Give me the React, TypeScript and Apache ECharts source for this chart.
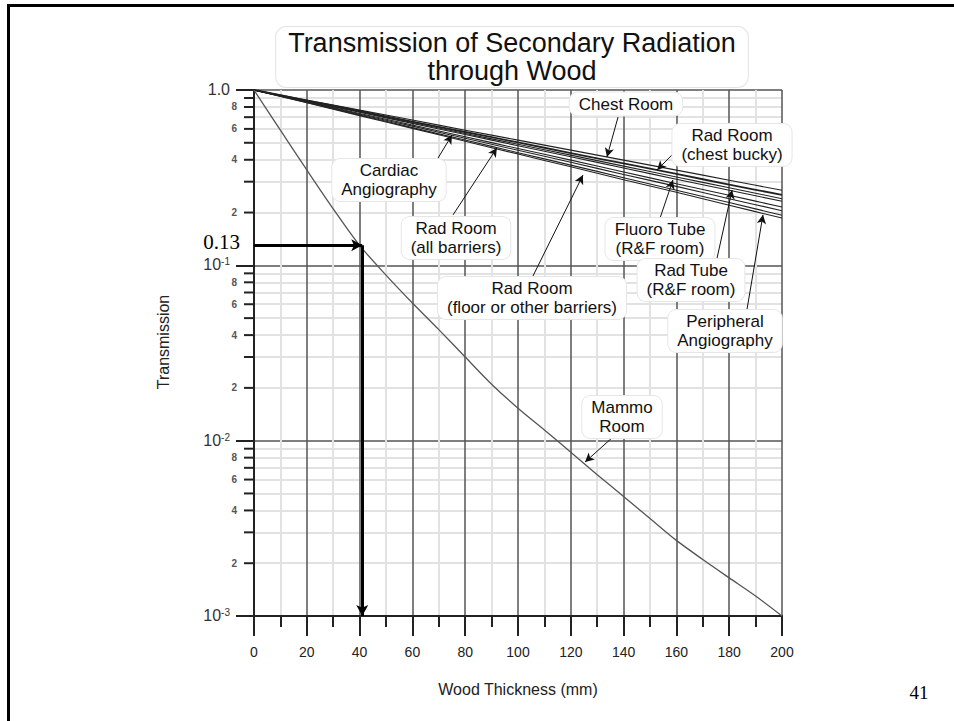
import React, { useEffect, useRef } from 'react';
import * as echarts from 'echarts';

// ---- Data ----
const THICKNESS = [0, 20, 40, 60, 80, 100, 120, 140, 160, 180, 200];
const CHEST_ROOM = [1, 0.877, 0.768, 0.674, 0.59, 0.518, 0.454, 0.398, 0.349, 0.306, 0.268];
const RAD_ROOM_CHEST_BUCKY = [1, 0.871, 0.759, 0.661, 0.576, 0.502, 0.437, 0.381, 0.332, 0.289, 0.252];
const RAD_TUBE_RF = [1, 0.867, 0.752, 0.652, 0.565, 0.49, 0.425, 0.368, 0.319, 0.277, 0.24];
const FLUORO_TUBE_RF = [1, 0.864, 0.746, 0.645, 0.557, 0.481, 0.416, 0.359, 0.31, 0.268, 0.232];
const CARDIAC_ANGIO = [1, 0.858, 0.735, 0.631, 0.541, 0.464, 0.398, 0.341, 0.292, 0.251, 0.215];
const RAD_ROOM_ALL = [1, 0.854, 0.728, 0.622, 0.531, 0.453, 0.387, 0.33, 0.282, 0.24, 0.205];
const PERIPHERAL_ANGIO = [1, 0.848, 0.72, 0.61, 0.518, 0.439, 0.373, 0.316, 0.268, 0.228, 0.193];
const RAD_ROOM_FLOOR = [1, 0.845, 0.714, 0.604, 0.51, 0.431, 0.365, 0.308, 0.261, 0.22, 0.186];

const MAMMO_THICKNESS = [0, 10, 20, 30, 40, 50, 60, 70, 80, 90, 100, 110, 120, 130, 140, 150, 160, 170, 180, 190, 200];
const MAMMO_ROOM = [1, 0.59, 0.35, 0.21, 0.13, 0.088, 0.061, 0.043, 0.03, 0.021, 0.0153, 0.0115, 0.0086, 0.0064, 0.0048, 0.0036, 0.0027, 0.0021, 0.00165, 0.0013, 0.001];

const DECADES = [0.001, 0.01, 0.1];
const MINOR_STEPS = [2, 3, 4, 5, 6, 7, 8, 9];
const LABELED_STEPS = [2, 4, 6, 8];

// reading example (0.13 at 41 mm)
const READ_X = 41;
const READ_T = 0.13;

// label arrows: [fromX, fromT, toX, toT] in data units
const LABEL_ARROWS = [
  [137.9, 0.701, 133.7, 0.415], // Chest Room
  [160.2, 0.455, 152.7, 0.35], // Rad Room (chest bucky)
  [69.7, 0.409, 75.0, 0.554], // Cardiac Angiography
  [75.4, 0.194, 92.0, 0.467], // Rad Room (all barriers)
  [105.3, 0.0847, 124.6, 0.327], // Rad Room (floor or other barriers)
  [153.8, 0.186, 158.7, 0.307], // Fluoro Tube
  [175.4, 0.11, 181.1, 0.269], // Rad Tube
  [186.7, 0.0556, 192.8, 0.194], // Peripheral Angiography
  [136.0, 0.0105, 125.4, 0.00755], // Mammo Room
];

const SANS = '"Liberation Sans", Arial, Helvetica, sans-serif';
const SERIF = '"Liberation Serif", "Times New Roman", serif';

const CURVES = [
  { name: 'Chest Room', values: CHEST_ROOM, width: 1.1 },
  { name: 'Rad Room (chest bucky)', values: RAD_ROOM_CHEST_BUCKY, width: 1.8 },
  { name: 'Rad Tube (R&F room)', values: RAD_TUBE_RF, width: 1.1 },
  { name: 'Fluoro Tube (R&F room)', values: FLUORO_TUBE_RF, width: 1.1 },
  { name: 'Cardiac Angiography', values: CARDIAC_ANGIO, width: 1.1 },
  { name: 'Rad Room (all barriers)', values: RAD_ROOM_ALL, width: 1.1 },
  { name: 'Peripheral Angiography', values: PERIPHERAL_ANGIO, width: 1.1 },
  { name: 'Rad Room (floor or other barriers)', values: RAD_ROOM_FLOOR, width: 1.1 },
];

const LABELS = [
  { text: 'Chest Room', x: 626, y: 104 },
  { text: 'Rad Room\n(chest bucky)', x: 732, y: 145 },
  { text: 'Cardiac\nAngiography', x: 389, y: 180 },
  { text: 'Rad Room\n(all barriers)', x: 456, y: 238 },
  { text: 'Fluoro Tube\n(R&F room)', x: 660, y: 239 },
  { text: 'Rad Tube\n(R&F room)', x: 691, y: 280 },
  { text: 'Rad Room\n(floor or other barriers)', x: 532, y: 298 },
  { text: 'Peripheral\nAngiography', x: 725, y: 331 },
  { text: 'Mammo\nRoom', x: 622, y: 417 },
];

export default function App() {
  const ref = useRef<HTMLDivElement>(null);
  useEffect(() => {
    if (!ref.current) return;
    const chart = echarts.init(ref.current, null, { renderer: 'svg' });
    const minorValues: number[] = [];
    DECADES.forEach((d) => MINOR_STEPS.forEach((k) => minorValues.push(+(d * k).toPrecision(6))));

    const series: any[] = [
      {
        type: 'line',
        name: 'minorGrid',
        data: [],
        silent: true,
        markLine: {
          silent: true,
          z: -1,
          symbol: 'none',
          precision: 10,
          label: { show: false },
          lineStyle: { color: '#e2e2e2', width: 2, type: 'solid' },
          data: minorValues.map((v) => ({ yAxis: v })),
        },
      },
      ...CURVES.map((c) => ({
        type: 'line',
        name: c.name,
        data: THICKNESS.map((x, i) => [x, c.values[i]]),
        showSymbol: false,
        smooth: 0.2,
        lineStyle: { color: '#222', width: c.width },
        z: 3,
      })),
      {
        type: 'line',
        name: 'Mammo Room',
        data: MAMMO_THICKNESS.map((x, i) => [x, MAMMO_ROOM[i]]),
        showSymbol: false,
        smooth: 0.3,
        lineStyle: { color: '#555', width: 1.3 },
        z: 3,
      },
      {
        type: 'line',
        name: 'labelArrows',
        data: [],
        silent: true,
        markLine: {
          silent: true,
          symbol: ['none', 'arrow'],
          symbolSize: [7, 9],
          label: { show: false },
          lineStyle: { color: '#111', width: 1, type: 'solid' },
          data: LABEL_ARROWS.map((a) => [{ coord: [a[0], a[1]] }, { coord: [a[2], a[3]] }]),
        },
      },
      {
        type: 'line',
        name: 'reading',
        data: [],
        silent: true,
        markLine: {
          silent: true,
          symbol: ['none', 'arrow'],
          symbolSize: [9, 11],
          label: { show: false },
          lineStyle: { color: '#000', width: 3, type: 'solid' },
          data: [
            [{ coord: [0, READ_T] }, { coord: [READ_X, READ_T] }],
            [{ coord: [READ_X, READ_T] }, { coord: [READ_X, 0.001] }],
          ],
        },
      },
    ];

    const option: any = {
      animation: false,
      backgroundColor: '#ffffff',
      grid: { left: 254, right: 172, top: 90, bottom: 105 },
      xAxis: {
        type: 'value',
        min: 0,
        max: 200,
        interval: 20,
        axisLine: { show: true, onZero: false, lineStyle: { color: '#222', width: 2 } },
        axisTick: { show: true, length: 20, lineStyle: { color: '#222', width: 2 } },
        minorTick: { show: true, splitNumber: 2, length: 11, lineStyle: { color: '#222', width: 2 } },
        axisLabel: { margin: 29, fontSize: 14, color: '#222', fontFamily: SANS },
        splitLine: { show: true, lineStyle: { color: '#555', width: 1.5 } },
        minorSplitLine: { show: true, lineStyle: { color: '#e2e2e2', width: 2 } },
        name: 'Wood Thickness (mm)',
        nameLocation: 'middle',
        nameGap: 65,
        nameTextStyle: { fontSize: 16, color: '#222', fontFamily: SANS },
      },
      yAxis: {
        type: 'log',
        logBase: 10,
        min: 0.001,
        max: 1,
        splitNumber: 3,
        axisLine: { show: true, lineStyle: { color: '#222', width: 2 } },
        axisTick: { show: true, length: 18, lineStyle: { color: '#222', width: 2 } },
        axisLabel: {
          margin: 24,
          fontSize: 16,
          color: '#333',
          fontFamily: SANS,
          formatter: (v: number) => (v >= 1 ? '{b|1.0}' : '{b|10}{s|-' + Math.round(-Math.log10(v)) + '}'),
          rich: {
            b: { fontSize: 16, color: '#333', fontFamily: SANS, verticalAlign: 'bottom', lineHeight: 15 },
            s: { fontSize: 10, color: '#333', fontFamily: SANS, verticalAlign: 'bottom', lineHeight: 10, padding: [0, 0, 6, 0] },
          },
        },
        splitLine: { show: true, lineStyle: { color: '#555', width: 1.5 } },
      },
      series,
    };
    chart.setOption(option);

    const graphics: any[] = [];
    // page frame
    graphics.push({ type: 'line', z: 200, shape: { x1: 8.5, y1: 4, x2: 8.5, y2: 721 }, style: { stroke: '#000', lineWidth: 3 } });
    graphics.push({ type: 'line', z: 200, shape: { x1: 7, y1: 5.5, x2: 954, y2: 5.5 }, style: { stroke: '#000', lineWidth: 3 } });

    // minor y ticks and labels
    DECADES.forEach((d) =>
      MINOR_STEPS.forEach((k) => {
        const p = chart.convertToPixel({ gridIndex: 0 }, [0, d * k]) as number[];
        graphics.push({
          type: 'line',
          z: 50,
          shape: { x1: p[0] - 10, y1: p[1], x2: p[0], y2: p[1] },
          style: { stroke: '#222', lineWidth: 2 },
        });
        if (LABELED_STEPS.indexOf(k) >= 0) {
          graphics.push({
            type: 'text',
            z: 50,
            x: p[0] - 17,
            y: p[1],
            style: { text: String(k), fontSize: 10, fontWeight: 'bold', fontFamily: SANS, fill: '#555', align: 'right', verticalAlign: 'middle' },
          });
        }
      })
    );

    // title
    graphics.push({
      type: 'text',
      z: 100,
      x: 512,
      y: 57,
      style: {
        text: 'Transmission of Secondary Radiation\nthrough Wood',
        fontSize: 27,
        fontFamily: SANS,
        fill: '#111',
        align: 'center',
        verticalAlign: 'middle',
        lineHeight: 28,
        backgroundColor: '#fff',
        borderColor: '#e4e4e4',
        borderWidth: 1,
        borderRadius: 10,
        padding: [2, 12],
      },
    });

    // curve labels
    LABELS.forEach((l) =>
      graphics.push({
        type: 'text',
        z: 100,
        x: l.x,
        y: l.y,
        style: {
          text: l.text,
          fontSize: 17,
          fontFamily: SANS,
          fill: '#111',
          align: 'center',
          verticalAlign: 'middle',
          lineHeight: 19,
          backgroundColor: '#fff',
          borderColor: '#e6e6e6',
          borderWidth: 1,
          borderRadius: 8,
          padding: [2, 9],
        },
      })
    );

    // y axis name
    graphics.push({
      type: 'text',
      z: 100,
      x: 163,
      y: 342,
      rotation: Math.PI / 2,
      style: { text: 'Transmission', fontSize: 16, fontFamily: SANS, fill: '#222', align: 'center', verticalAlign: 'middle' },
    });

    // reading value
    const rp = chart.convertToPixel({ gridIndex: 0 }, [0, READ_T]) as number[];
    graphics.push({
      type: 'text',
      z: 100,
      x: rp[0] - 14,
      y: rp[1] - 3,
      style: { text: '0.13', fontSize: 21, fontFamily: SERIF, fill: '#000', align: 'right', verticalAlign: 'middle' },
    });

    // page number
    graphics.push({
      type: 'text',
      z: 100,
      x: 919,
      y: 692,
      style: { text: '41', fontSize: 19, fontFamily: SERIF, fill: '#000', align: 'center', verticalAlign: 'middle' },
    });

    chart.setOption({ graphic: graphics });
    return () => chart.dispose();
  }, []);
  return <div ref={ref} style={{ position: 'absolute', left: 0, top: 0, width: 954, height: 721 }} />;
}
